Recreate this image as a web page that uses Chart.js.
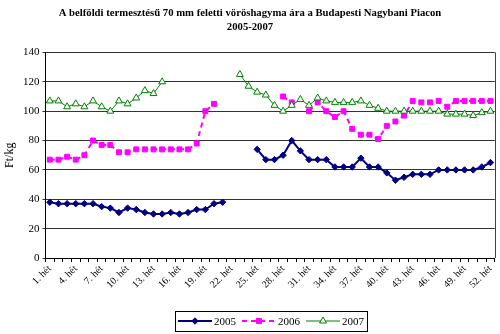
<!DOCTYPE html>
<html>
<head>
<meta charset="utf-8">
<script src="https://cdn.jsdelivr.net/npm/chart.js@4.4.0/dist/chart.umd.min.js"></script>
<style>
  html, body { margin: 0; padding: 0; background: #fff; }
</style>
</head>
<body>
<canvas id="lineChart" width="500" height="334"></canvas>
<script>
// weeks 1..52
const weeks = Array.from({ length: 52 }, (_, i) => (i + 1) + ". hét");

const price2005 = [38, 37, 37, 37, 37, 37, 35, 34, 31, 34, 33, 31, 30, 30, 31, 30, 31, 33, 33, 37, 38,
  null, null, null,
  74, 67, 67, 70, 80, 73, 67, 67, 67, 62, 62, 62, 68, 62, 62, 58, 53, 55, 57, 57, 57, 60, 60, 60, 60, 60, 62, 65];

const price2006 = [67, 67, 69, 67, 70, 80, 77, 77, 72, 72, 74, 74, 74, 74, 74, 74, 74, 78, 100, 105,
  null, null, null, null, null, null, null,
  110, 106, null, 100, 106, 100, 96, 100, 88, 84, 84, 81, 90, 93, 97, 107, 106, 106, 107, 103, 107, 107, 107, 107, 107];

const price2007 = [107, 107, 103, 105, 103, 107, 103, 100, 107, 105, 109, 114, 112, 120,
  null, null, null, null, null, null, null, null,
  125, 117, 113, 111, 104, 100, 104, 108, 104, 109, 107, 106, 106, 106, 107, 104, 102,
  100, 100, 100, 100, 100, 100, 100, 98, 98, 98, 97, 99, 100];

const serif = "'Liberation Serif', 'Times New Roman', serif";

// Excel-style legend in a box + right edge of the plot area
const excelLegend = {
  id: "excelLegend",
  afterDraw(chart) {
    const ctx = chart.ctx;
    const area = chart.chartArea;
    ctx.save();
    ctx.strokeStyle = "#404040";
    ctx.lineWidth = 1;
    ctx.beginPath();
    ctx.moveTo(Math.round(area.right) + 0.5, area.top);
    ctx.lineTo(Math.round(area.right) + 0.5, area.bottom);
    ctx.stroke();

    ctx.font = "11px " + serif;
    const seg = 34, gap = 2, pad = 3, between = 6;
    const items = chart.data.datasets.map((d) => ({ d, w: seg + gap + ctx.measureText(d.label).width }));
    const total = items.reduce((a, it) => a + it.w, 0) + pad * 2 + between * (items.length - 1);
    let x = Math.round(271 - total / 2);
    const top = 311, h = 20, cy = top + h / 2;
    ctx.strokeStyle = "#000";
    ctx.strokeRect(x + 0.5, top + 0.5, Math.round(total), h);
    x += pad;
    items.forEach(({ d, w }) => {
      ctx.strokeStyle = d.borderColor;
      ctx.lineWidth = d.borderWidth;
      ctx.setLineDash(d.borderDash || []);
      ctx.beginPath();
      ctx.moveTo(x, cy);
      ctx.lineTo(x + seg, cy);
      ctx.stroke();
      ctx.setLineDash([]);
      if (Chart.helpers && Chart.helpers.drawPoint) {
        ctx.fillStyle = d.pointBackgroundColor;
        ctx.strokeStyle = d.pointBorderColor;
        ctx.lineWidth = d.pointBorderWidth;
        Chart.helpers.drawPoint(ctx, { pointStyle: d.pointStyle, radius: d.pointRadius, rotation: 0, borderWidth: d.pointBorderWidth }, x + seg / 2, cy);
      }
      ctx.fillStyle = "#000";
      ctx.textBaseline = "middle";
      ctx.fillText(d.label, x + seg + gap, cy + 1);
      x += w + between;
    });
    ctx.restore();
  }
};

new Chart(document.getElementById("lineChart").getContext("2d"), {
  type: "line",
  data: {
    labels: weeks,
    datasets: [
      {
        label: "2005",
        data: price2005,
        borderColor: "#000080",
        borderWidth: 2,
        pointStyle: "rectRot",
        pointRadius: 3.2,
        pointBackgroundColor: "#000080",
        pointBorderColor: "#000080",
        pointBorderWidth: 1,
        order: 2,
      },
      {
        label: "2006",
        data: price2006,
        borderColor: "#FF00FF",
        borderWidth: 2,
        borderDash: [5, 4],
        pointStyle: "rect",
        pointRadius: 3.5,
        pointBackgroundColor: "#FF00FF",
        pointBorderColor: "#FF00FF",
        pointBorderWidth: 1,
        order: 1,
      },
      {
        label: "2007",
        data: price2007,
        borderColor: "#008000",
        borderWidth: 1,
        pointStyle: "triangle",
        pointRadius: 4,
        pointBackgroundColor: "#ffffff",
        pointBorderColor: "#008000",
        pointBorderWidth: 1,
        order: 0,
      },
    ],
  },
  options: {
    responsive: false,
    animation: false,
    spanGaps: false,
    layout: { padding: { left: 3, right: 3, top: 0, bottom: 0 } },
    plugins: {
      legend: { display: false },
      tooltip: { enabled: false },
      title: {
        display: true,
        text: ["A belföldi termesztésű 70 mm feletti vöröshagyma ára a Budapesti Nagybani Piacon", "2005-2007"],
        color: "#000",
        font: { family: serif, size: 10.7, weight: "bold", lineHeight: 1.33 },
        padding: { top: 6, bottom: 18 },
      },
    },
    scales: {
      x: {
        offset: true,
        grid: { offset: true, drawOnChartArea: false, drawTicks: true, tickLength: 4, color: "#000" },
        border: { color: "#000" },
        ticks: {
          autoSkip: false,
          minRotation: 45,
          maxRotation: 45,
          padding: 1,
          color: "#000",
          font: { family: serif, size: 10 },
          callback: (v, i) => (i % 3 === 0 ? weeks[i] : ""),
        },
        afterFit: (s) => { s.height = 76; },
      },
      y: {
        min: 0,
        max: 140,
        ticks: { stepSize: 10, color: "#000", padding: 3, font: { family: serif, size: 11 } },
        grid: { color: "#333333", tickLength: 3 },
        border: { color: "#000" },
        title: { display: true, text: "Ft/kg", color: "#000", font: { family: serif, size: 12 }, padding: 0 },
        afterFit: (s) => { s.width = 42.5; },
      },
    },
  },
  plugins: [excelLegend],
});
</script>
</body>
</html>
